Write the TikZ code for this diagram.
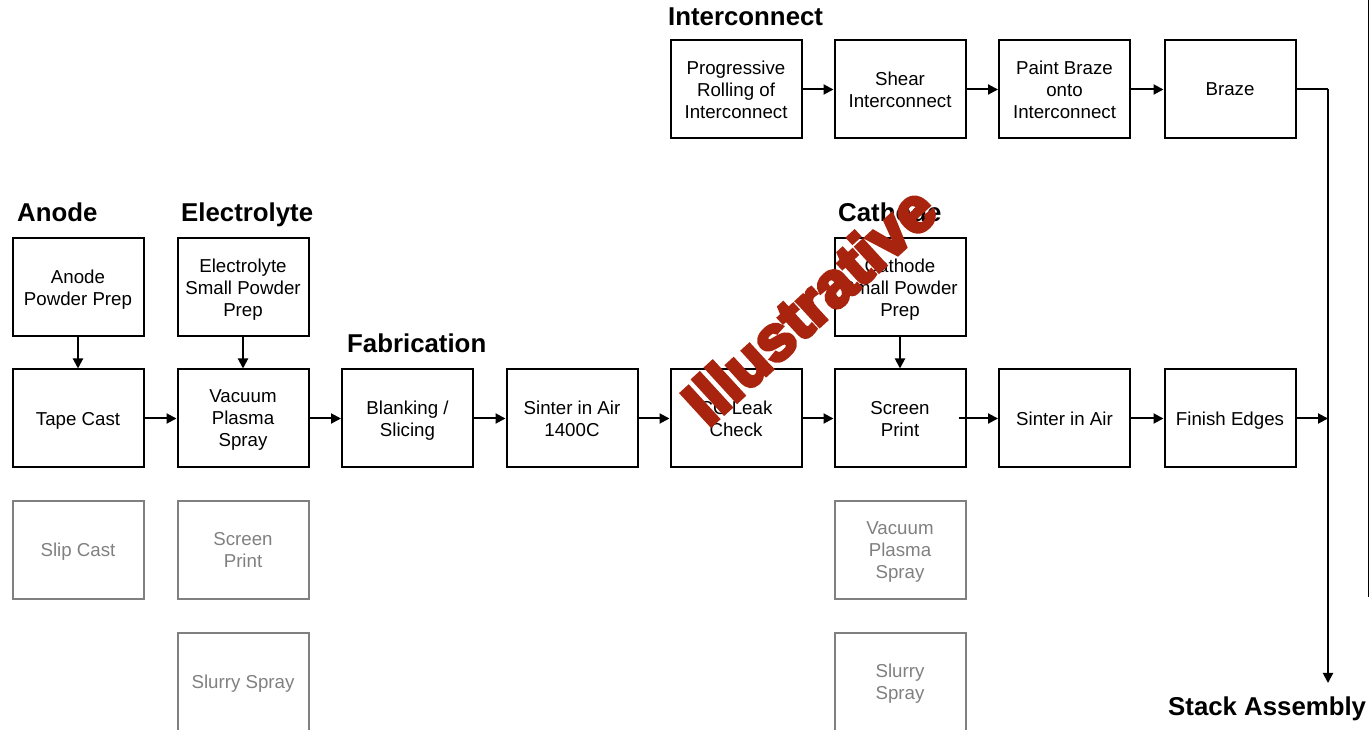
\documentclass[tikz,border=0pt]{standalone}
\usepackage{fontspec}
\setmainfont{Liberation Sans}
\usetikzlibrary{arrows.meta}
\definecolor{inactive}{RGB}{128,128,128}
\definecolor{stamp}{RGB}{168,36,14}
% heavy outlined lettering: fill and stroke the glyphs
\newcommand{\heavytext}[1]{\special{pdf:literal direct 2 Tr 4 w}#1\special{pdf:literal direct 0 Tr}}
\begin{document}
\begin{tikzpicture}[x=1pt,y=1pt,
  proc/.style={draw=black,line width=2pt,minimum width=131pt,minimum height=98pt,
    align=center,inner sep=2pt,text depth=0pt,font=\fontsize{18.7}{22}\selectfont},
  alt/.style={proc,draw=inactive,text=inactive},
  head/.style={anchor=base west,inner sep=0pt,font=\fontsize{25.8}{30}\selectfont\bfseries},
  flow/.style={line width=2pt,-{Triangle[length=10pt,width=10pt]}},
  wire/.style={line width=2pt}]
\useasboundingbox (0,0) rectangle (1370,730);

% interconnect line
\node[proc] (ic1) at (736,640.5) {Progressive\\Rolling of\\Interconnect};
\node[proc] (ic2) at (900,640.5) {Shear\\Interconnect};
\node[proc] (ic3) at (1064.5,640.5) {Paint Braze\\onto\\Interconnect};
\node[proc] (ic4) at (1230,640.5) {Braze};

% powder preparation
\node[proc] (ap) at (78,442.5) {Anode\\Powder Prep};
\node[proc] (ep) at (243,442.5) {Electrolyte\\Small Powder\\Prep};
\node[proc] (cp) at (900,442.5) {Cathode\\Small Powder\\Prep};

% main cell line
\node[proc] (tc)  at (78,311.5) {Tape Cast};
\node[proc] (vps) at (243,311.5) {Vacuum\\Plasma\\Spray};
\node[proc] (bl)  at (407.5,311.5) {Blanking /\\Slicing};
\node[proc] (s1)  at (572,311.5) {Sinter in Air\\1400C};
\node[proc] (cc)  at (736,311.5) {CC Leak\\Check};
\node[proc] (sp)  at (900,311.5) {Screen\\Print};
\node[proc] (s2)  at (1064.5,311.5) {Sinter in Air};
\node[proc] (fe)  at (1230,311.5) {Finish Edges};

% alternative processes
\node[alt] (slc) at (78,180) {Slip Cast};
\node[alt] (esp) at (243,180) {Screen\\Print};
\node[alt] (ess) at (243,48) {Slurry Spray};
\node[alt] (cvp) at (900,180) {Vacuum\\Plasma\\Spray};
\node[alt] (css) at (900,48) {Slurry\\Spray};

% section headings
\node[head] (hic) at (668,704) {Interconnect};
\node[head] (han) at (17,508) {Anode};
\node[head] (hel) at (181,508) {Electrolyte};
\node[head] (hca) at (838,508) {Cathode};
\node[head] (hfa) at (347,377) {Fabrication};
\node[head] (hsa) at (1168,14) {Stack Assembly};

% connectors
\draw[flow] (ic1) -- (ic2);
\draw[flow] (ic2) -- (ic3);
\draw[flow] (ic3) -- (ic4);
\draw[flow] (ap) -- (tc);
\draw[flow] (ep) -- (vps);
\draw[flow] (cp) -- (sp);
\draw[flow] (tc) -- (vps);
\draw[flow] (vps) -- (bl);
\draw[flow] (bl) -- (s1);
\draw[flow] (s1) -- (cc);
\draw[flow] (cc) -- (sp);
\draw[flow] ([xshift=-8pt]sp.east) -- (s2);
\draw[flow] (s2) -- (fe);
\coordinate (bus) at (1328,640.5);
\coordinate (join) at (1328,311.5);
\coordinate (stack) at (1328,47);
\draw[wire] (ic4.east) -- (bus);
\draw[flow] (bus) -- (stack);
\draw[flow] (fe.east) -- (join);

% frame edge on the right
\coordinate (edgetop) at (1368.5,730);
\coordinate (edgebot) at (1368.5,133);
\draw[line width=1.6pt] (edgetop) -- (edgebot);

% stamp
\node[text=stamp,rotate=42.5,inner sep=0pt,font=\fontsize{63}{63}\selectfont\bfseries] (stampnode) at (809,425) {\heavytext{Illustrative}};
\end{tikzpicture}
\end{document}
